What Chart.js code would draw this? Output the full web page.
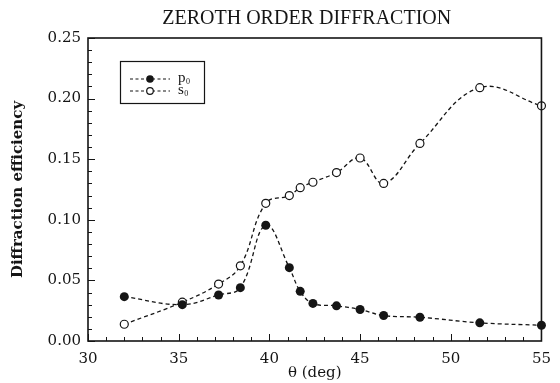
<!DOCTYPE html>
<html>
<head>
<meta charset="utf-8">
<script src="https://cdn.jsdelivr.net/npm/chart.js@4.4.1/dist/chart.umd.min.js"></script>
<style>
  html, body { margin: 0; padding: 0; background: #fff; }
  #wrap { width: 560px; height: 383px; }
</style>
</head>
<body>
<div id="wrap"><canvas id="diffChart"></canvas></div>
<script>
// incidence angle (deg) and zeroth order efficiencies
const angles = [32.0, 35.2, 37.2, 38.4, 39.8, 41.1, 41.7, 42.4, 43.7, 45.0, 46.3, 48.3, 51.6, 55.0];
const p0 = [0.0366, 0.030, 0.038, 0.044, 0.0955, 0.0605, 0.041, 0.031, 0.029, 0.026, 0.021, 0.0196, 0.015, 0.013];
const s0 = [0.0138, 0.032, 0.047, 0.062, 0.1136, 0.120, 0.1265, 0.131, 0.139, 0.151, 0.130, 0.163, 0.209, 0.194];

const xMajor = [30, 35, 40, 45, 50, 55];
const yMajor = [0.00, 0.05, 0.10, 0.15, 0.20, 0.25];

const ink = "#151515";
const serif = "'DejaVu Serif', 'Liberation Serif', serif";

function toPoints(ys) {
    return angles.map((a, i) => ({ x: a, y: ys[i] }));
}

// box around the plot, inward tick marks, title and legend
const framePlugin = {
    id: "frame",
    afterDraw(chart) {
        const ctx = chart.ctx;
        const area = chart.chartArea;
        const xs = chart.scales.x;
        const ys = chart.scales.y;
        ctx.save();
        ctx.strokeStyle = ink;
        ctx.lineWidth = 1.6;
        ctx.strokeRect(area.left, area.top, area.right - area.left, area.bottom - area.top);

        ctx.lineWidth = 1;
        ctx.beginPath();
        for (let v = 30; v <= 55; v++) {
            const px = Math.round(xs.getPixelForValue(v)) + 0.5;
            const len = v % 5 === 0 ? 7 : 4;
            ctx.moveTo(px, area.bottom);
            ctx.lineTo(px, area.bottom - len);
        }
        for (let k = 0; k <= 25; k++) {
            const py = Math.round(ys.getPixelForValue(k / 100)) + 0.5;
            const len = k % 5 === 0 ? 7 : 4;
            ctx.moveTo(area.left, py);
            ctx.lineTo(area.left + len, py);
        }
        ctx.stroke();

        // title
        ctx.fillStyle = ink;
        ctx.font = "20px 'Liberation Serif', serif";
        ctx.textAlign = "center";
        ctx.textBaseline = "middle";
        ctx.fillText("ZEROTH ORDER DIFFRACTION", (area.left + area.right) / 2 - 8, 19);

        // legend
        ctx.lineWidth = 1.2;
        ctx.strokeRect(120.5, 61.5, 84, 42);
        const rows = [
            { name: "p", y: 79, filled: true },
            { name: "s", y: 91, filled: false }
        ];
        rows.forEach(r => {
            ctx.setLineDash([3, 2.5]);
            ctx.beginPath();
            ctx.moveTo(130, r.y);
            ctx.lineTo(170, r.y);
            ctx.stroke();
            ctx.setLineDash([]);
            ctx.beginPath();
            ctx.arc(150, r.y, r.filled ? 3.8 : 3.3, 0, Math.PI * 2);
            if (r.filled) {
                ctx.fillStyle = ink;
                ctx.fill();
            } else {
                ctx.fillStyle = "#fff";
                ctx.fill();
                ctx.stroke();
            }
            ctx.fillStyle = ink;
            ctx.textAlign = "left";
            ctx.font = "15px 'Liberation Serif', serif";
            ctx.fillText(r.name, 178, r.y - 1);
            const w = ctx.measureText(r.name).width;
            ctx.font = "8px 'Liberation Serif', serif";
            ctx.fillText("0", 178 + w + 0.5, r.y + 3);
        });
        ctx.restore();
    }
};

new Chart(document.getElementById("diffChart"), {
    type: "scatter",
    data: {
        datasets: [
            {
                label: "p0",
                data: toPoints(p0),
                showLine: true,
                tension: 0.4,
                borderColor: ink,
                borderWidth: 1.3,
                borderDash: [4, 3],
                pointRadius: 4.5,
                pointBackgroundColor: ink,
                pointBorderColor: ink,
                pointBorderWidth: 0,
                clip: false
            },
            {
                label: "s0",
                data: toPoints(s0),
                showLine: true,
                tension: 0.4,
                borderColor: ink,
                borderWidth: 1.3,
                borderDash: [4, 3],
                pointRadius: 4,
                pointBackgroundColor: "#fff",
                pointBorderColor: ink,
                pointBorderWidth: 1.2,
                clip: false
            }
        ]
    },
    options: {
        responsive: true,
        maintainAspectRatio: false,
        animation: false,
        layout: { padding: { top: 38, right: 13, bottom: 0, left: 0 } },
        plugins: {
            legend: { display: false },
            title: { display: false },
            tooltip: { enabled: false }
        },
        scales: {
            x: {
                type: "linear",
                min: 30,
                max: 55,
                afterBuildTicks: s => { s.ticks = xMajor.map(v => ({ value: v })); },
                afterFit: s => { s.height = 42; },
                grid: { display: false, drawTicks: false },
                border: { display: false },
                ticks: {
                    padding: 9,
                    color: ink,
                    font: { family: serif, size: 15 },
                    callback: v => String(v)
                },
                title: {
                    display: true,
                    text: "θ (deg)",
                    color: ink,
                    font: { family: serif, size: 15 },
                    padding: { top: 0, bottom: 1 }
                }
            },
            y: {
                type: "linear",
                min: 0,
                max: 0.25,
                afterBuildTicks: s => { s.ticks = yMajor.map(v => ({ value: v })); },
                afterFit: s => { s.width = 88; },
                grid: { display: false, drawTicks: false },
                border: { display: false },
                ticks: {
                    padding: 7,
                    color: ink,
                    font: { family: serif, size: 15 },
                    callback: v => Number(v).toFixed(2)
                },
                title: {
                    display: true,
                    text: "Diffraction efficiency",
                    color: ink,
                    font: { family: serif, size: 15, weight: "bold" },
                    padding: { top: 9, bottom: 0 }
                }
            }
        }
    },
    plugins: [framePlugin]
});
</script>
</body>
</html>
